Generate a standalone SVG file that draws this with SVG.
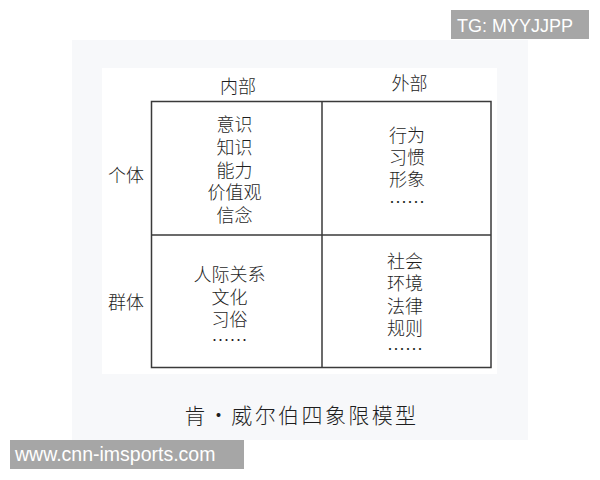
<svg xmlns="http://www.w3.org/2000/svg" width="600" height="480" viewBox="0 0 600 480">
<style>
.cjk{font-family:"Noto Sans CJK SC","Noto Sans",sans-serif;font-size:18px;fill:#1e1e1e;text-anchor:middle;font-weight:300}
.grid{stroke:#3a3a3a;stroke-width:1.5;fill:none}
.wm{font-family:"Liberation Sans",Arial,sans-serif;fill:#ffffff}
</style>
<rect x="0" y="0" width="600" height="480" fill="#ffffff"/>
<rect id="panel" x="72" y="40" width="456" height="400" fill="#f7f8fa"/>
<rect id="inner" x="102" y="68" width="395" height="306" fill="#ffffff"/>
<g id="connectors">
<rect class="grid" x="151.5" y="101.5" width="339.5" height="266"/>
<line class="grid" x1="322" y1="101.5" x2="322" y2="367.5"/>
<line class="grid" x1="151.5" y1="235" x2="491" y2="235"/>
</g>
<g id="header-internal"><text class="cjk" x="238" y="92.5">内部</text></g>
<g id="header-external"><text class="cjk" x="409.5" y="89.5">外部</text></g>
<g id="row-individual"><text class="cjk" x="126" y="182">个体</text></g>
<g id="row-group"><text class="cjk" x="126" y="309">群体</text></g>
<g id="q-individual-internal">
<text class="cjk" x="234.5" y="131">意识</text>
<text class="cjk" x="234.5" y="154">知识</text>
<text class="cjk" x="234.5" y="177">能力</text>
<text class="cjk" x="234.5" y="199">价值观</text>
<text class="cjk" x="234.5" y="222">信念</text>
</g>
<g id="q-individual-external">
<text class="cjk" x="407" y="142">行为</text>
<text class="cjk" x="407" y="164">习惯</text>
<text class="cjk" x="407" y="186">形象</text>
<text class="cjk" x="407" y="209">……</text>
</g>
<g id="q-group-internal">
<text class="cjk" x="229.5" y="281">人际关系</text>
<text class="cjk" x="229.5" y="304">文化</text>
<text class="cjk" x="229.5" y="326">习俗</text>
<text class="cjk" x="229.5" y="347">……</text>
</g>
<g id="q-group-external">
<text class="cjk" x="405" y="268">社会</text>
<text class="cjk" x="405" y="290">环境</text>
<text class="cjk" x="405" y="313">法律</text>
<text class="cjk" x="405" y="335">规则</text>
<text class="cjk" x="405" y="356">……</text>
</g>
<g id="caption"><text class="cjk" x="301.5" y="423" style="font-size:21px;letter-spacing:2.4px">肯·威尔伯四象限模型</text></g>
<g id="watermark-tg">
<rect x="451" y="10" width="138" height="29" fill="#a6a6a6"/>
<text class="wm" x="457" y="32" font-size="18">TG: MYYJJPP</text>
</g>
<g id="watermark-url">
<rect x="10" y="440" width="234" height="29" fill="#a6a6a6"/>
<text class="wm" x="15" y="461" font-size="19.5">www.cnn-imsports.com</text>
</g>
</svg>
